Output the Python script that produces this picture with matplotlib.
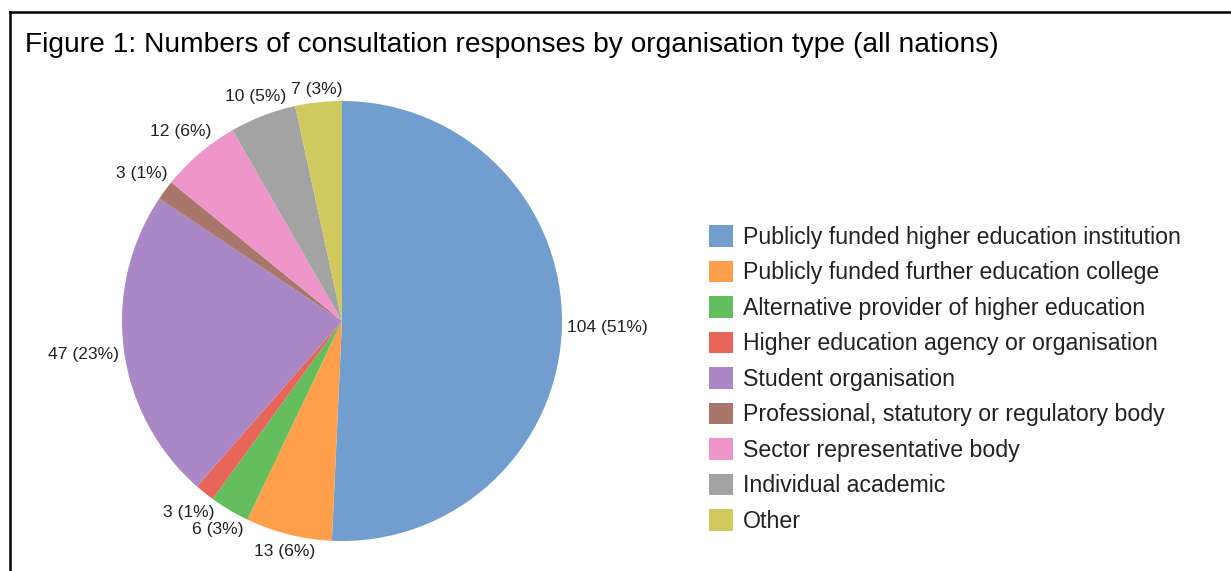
import matplotlib
matplotlib.use("Agg")
import matplotlib.pyplot as plt
import numpy as np

# Consultation responses by organisation type
categories = [
    "Publicly funded higher education institution",
    "Publicly funded further education college",
    "Alternative provider of higher education",
    "Higher education agency or organisation",
    "Student organisation",
    "Professional, statutory or regulatory body",
    "Sector representative body",
    "Individual academic",
    "Other",
]
responses = [104, 13, 6, 3, 47, 3, 12, 10, 7]
colors = ["#719ECF", "#FF9F4B", "#64BE5D", "#E8655A", "#AA88C7",
          "#A9766B", "#EE96CA", "#A3A3A3", "#D0CA5E"]
title = "Figure 1: Numbers of consultation responses by organisation type (all nations)"

plt.rcParams["font.family"] = ["Liberation Sans", "DejaVu Sans"]

W, H = 1231, 571
DPI = 100
fig = plt.figure(figsize=(W / DPI, H / DPI), dpi=DPI)
ax = fig.add_axes([0, 0, 1, 1])

# Axes in pixel units (y measured upward)
cx, cy, r = 342, H - 321, 220
wedges, _ = ax.pie(responses, colors=colors, startangle=90, counterclock=False,
                   center=(cx, cy), radius=r, wedgeprops=dict(linewidth=0))
ax.set_xlim(0, W)
ax.set_ylim(0, H)
ax.set_aspect("equal")
ax.axis("off")

# Outer frame (top and left edges)
ax.plot([9.5, W], [H - 12, H - 12], color="black", lw=1.8, solid_capstyle="projecting")
ax.plot([9.5, 9.5], [0, H - 12], color="black", lw=1.8, solid_capstyle="projecting")

ax.text(25, H - 45, title, ha="left", va="center", fontsize=20.25, color="black")

# Value labels placed just outside each slice
total = sum(responses)
renderer = fig.canvas.get_renderer()
for w, v in zip(wedges, responses):
    label = f"{v} ({round(100 * v / total)}%)"
    mid = np.deg2rad((w.theta1 + w.theta2) / 2)
    c, s = np.cos(mid), np.sin(mid)
    t = ax.text(0, 0, label, ha="center", va="center", fontsize=12.6, color="#222222")
    bb = t.get_window_extent(renderer)
    tw, th = bb.width, bb.height * 0.72
    d = r + 5 + abs(c) * tw / 2 + abs(s) * th / 2
    t.set_position((cx + d * c, cy + d * s))

leg = ax.legend(wedges, categories, loc="center left",
                bbox_to_anchor=(709, H - 379), bbox_transform=ax.transData,
                frameon=False, fontsize=16.7, handlelength=1.05, handleheight=1.05,
                handletextpad=0.4, labelspacing=0.51, borderpad=0, borderaxespad=0)
for txt in leg.get_texts():
    txt.set_color("#222222")

fig.savefig("out.png", dpi=DPI)
